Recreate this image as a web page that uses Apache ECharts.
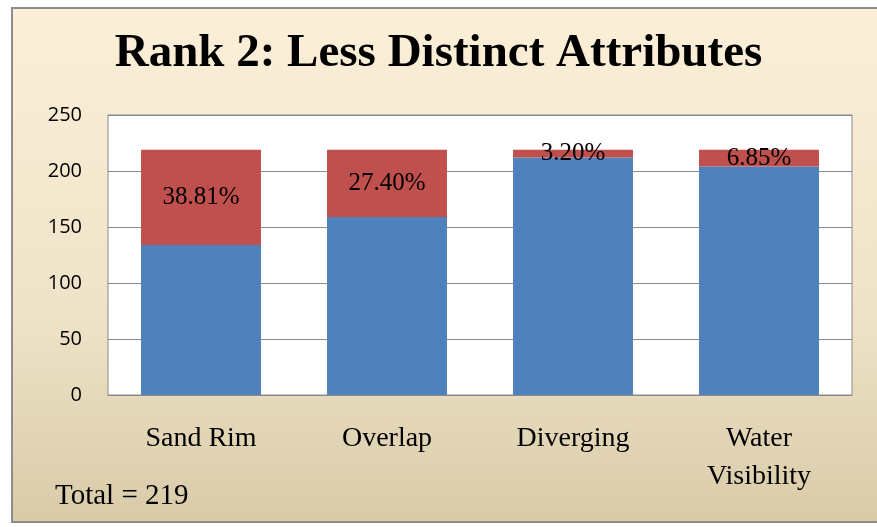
<!DOCTYPE html>
<html>
<head>
<meta charset="utf-8">
<script src="https://cdn.jsdelivr.net/npm/echarts@6/dist/echarts.min.js"></script>
<style>
  html, body { margin: 0; padding: 0; background: #fff; }
  #main { width: 877px; height: 527px; }
</style>
</head>
<body>
<div id="main"></div>
<script>
// data
var categories = ["Sand Rim", "Overlap", "Diverging", "Water\nVisibility"];
var baseValues = [134, 159, 212, 204];   // blue part
var lessValues = [85, 60, 7, 15];        // red part
var pctLabels = ["38.81%", "27.40%", "3.20%", "6.85%"];
var total = 219;

var chart = echarts.init(document.getElementById("main"));

var option = {
  animation: false,
  title: {
    text: "Rank 2: Less Distinct Attributes",
    left: "center",
    top: 25,
    textStyle: {
      fontFamily: "Liberation Serif",
      fontWeight: "bold",
      fontSize: 47,
      color: "#000"
    }
  },
  graphic: [
    {
      type: "rect",
      z: -10,
      silent: true,
      shape: { x: 12, y: 8, width: 880, height: 514 },
      style: {
        fill: new echarts.graphic.LinearGradient(0, 0, 0, 1, [
          { offset: 0, color: "#fcefd8" },
          { offset: 0.6, color: "#eee3c8" },
          { offset: 1, color: "#d9cba8" }
        ]),
        stroke: "#8c8c8c",
        lineWidth: 2
      }
    },
    {
      type: "text",
      left: 55,
      top: 482,
      style: {
        text: "Total = " + total,
        font: "29px 'Liberation Serif'",
        fill: "#000"
      }
    }
  ],
  grid: {
    left: 108,
    right: 25,
    top: 115,
    bottom: 132,
    show: true,
    backgroundColor: "#fff",
    borderColor: "#8a8a8a",
    borderWidth: 1
  },
  xAxis: {
    type: "category",
    data: categories,
    axisLine: { show: true, lineStyle: { color: "#8a8a8a" } },
    axisTick: { show: false },
    axisLabel: {
      margin: 25,
      verticalAlign: "top",
      color: "#000",
      fontFamily: "Liberation Serif",
      fontSize: 28,
      lineHeight: 38
    }
  },
  yAxis: {
    type: "value",
    min: 0,
    max: 250,
    interval: 50,
    axisLine: { show: false },
    axisTick: { show: false },
    axisLabel: {
      margin: 26,
      color: "#000",
      fontFamily: "Open Sans",
      fontSize: 20
    },
    splitLine: { lineStyle: { color: "#8a8a8a", width: 1 } }
  },
  series: [
    {
      name: "base",
      type: "bar",
      stack: "total",
      barWidth: "64.5%",
      itemStyle: { color: "#4f81bd" },
      data: baseValues
    },
    {
      name: "less",
      type: "bar",
      stack: "total",
      barWidth: "64.5%",
      itemStyle: { color: "#c0504d" },
      label: {
        show: true,
        position: "inside",
        color: "#000",
        fontFamily: "Liberation Serif",
        fontSize: 25,
        formatter: function (p) { return pctLabels[p.dataIndex]; }
      },
      data: lessValues
    }
  ]
};

chart.setOption(option);
</script>
</body>
</html>
